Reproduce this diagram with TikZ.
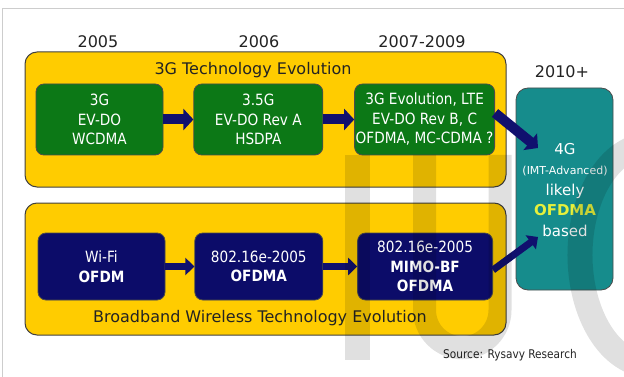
\documentclass[tikz,border=0pt]{standalone}
\usepackage{fontspec}
\setmainfont{DejaVu Sans}
\newfontfamily\boxfont{DejaVu Sans}[FakeStretch=0.88]
\usetikzlibrary{positioning,arrows.meta}

\definecolor{panelyellow}{RGB}{255,204,0}
\definecolor{boxgreen}{RGB}{12,120,22}
\definecolor{boxnavy}{RGB}{12,12,105}
\definecolor{arrownavy}{RGB}{16,16,110}
\definecolor{boxteal}{RGB}{22,140,140}
\definecolor{ofdmayellow}{RGB}{230,240,60}
\definecolor{framegray}{RGB}{205,205,205}
\definecolor{textgray}{RGB}{35,35,35}

\tikzset{
  panel/.style={draw=black!75, line width=1pt, fill=panelyellow, rounded corners=12pt, minimum width=481pt},
  techbox/.style={draw=black!70, line width=0.8pt, rounded corners=8pt, text=white, align=center,
    inner sep=0pt, font=\boxfont\fontsize{15.5}{19.5}\selectfont},
  gbox/.style={techbox, fill=boxgreen, minimum height=71pt},
  nbox/.style={techbox, fill=boxnavy, minimum height=67pt},
  year/.style={text=textgray, font=\fontsize{16}{19}\selectfont},
  evolabel/.style={text=textgray, font=\fontsize{16}{19}\selectfont},
  bigarrow/.style={arrownavy, line width=10pt, -{Triangle[length=10pt,width=21pt]}},
  smallarrow/.style={arrownavy, line width=7pt, -{Triangle[length=9pt,width=17pt]}},
  wmark/.style={black, opacity=0.12},
}

\begin{document}
\begin{tikzpicture}[x=1pt, y=-1pt]
  \useasboundingbox (0,0) rectangle (624,377);
  \draw[framegray, line width=1pt] (2,377) -- (2,9) -- (624,9);

  % the two panels
  \node[panel, minimum height=135pt] (top) at (265.5,119.5) {};
  \node[panel, minimum height=132pt] (bottom) at (265.5,269) {};
  \node[evolabel] (toplabel) at (253,70) {3G Technology Evolution};
  \node[evolabel] (bottomlabel) at (260,318) {Broadband Wireless Technology Evolution};

  % years
  \node[year] (y2005) at (98,42) {2005};
  \node[year] (y2006) at (259,42) {2006};
  \node[year] (y2007) at (422,42) {2007-2009};
  \node[year] (y2010) at (562,72) {2010+};

  % 3G row
  \node[gbox, minimum width=127pt] (g1) at (99.5,119.5) {3G\\EV-DO\\WCDMA};
  \node[gbox, minimum width=129pt, right=30pt of g1] (g2) {3.5G\\EV-DO Rev A\\HSDPA};
  \node[gbox, minimum width=140pt, right=31pt of g2] (g3) {3G Evolution, LTE\\EV-DO Rev B, C\\OFDMA, MC-CDMA ?};

  % broadband row
  \node[nbox, minimum width=127pt] (n1) at (101.5,266.5) {Wi-Fi\\\textbf{OFDM}};
  \node[nbox, minimum width=128pt, right=29pt of n1] (n2) {802.16e-2005\\\textbf{OFDMA}};
  \node[nbox, minimum width=135pt, right=34pt of n2] (n3) {802.16e-2005\\\textbf{MIMO-BF}\\\textbf{OFDMA}};

  % 4G
  \node[draw=black!70, line width=0.8pt, fill=boxteal, rounded corners=12pt,
        minimum width=97pt, minimum height=202pt] (fourg) at (564.5,189) {};
  \node[text=white, align=center, font=\fontsize{15}{20.5}\selectfont] (fourgtext) at (565,190)
    {4G\\{\fontsize{11}{12}\selectfont (IMT-Advanced)}\\likely\\\textcolor{ofdmayellow}{\textbf{OFDMA}}\\based};
  \coordinate (tipA) at (538,148);
  \coordinate (tipB) at (538,237);

  \draw[bigarrow] (g1) -- (g2);
  \draw[bigarrow] (g2) -- (g3);
  \draw[bigarrow] ([yshift=6.5pt]g3.east) -- (tipA);
  \draw[smallarrow] (n1) -- (n2);
  \draw[smallarrow] (n2) -- (n3);
  \draw[smallarrow] ([yshift=-3.5pt]n3.east) -- (tipB);

  \node[text=textgray, font=\boxfont\fontsize{12}{14}\selectfont] (source) at (510,355) {Source: Rysavy Research};

  % watermark
  \fill[wmark] (345,155) rectangle (370,360);
  \draw[wmark, line width=23pt] (424.5,155) -- (424.5,310) arc[start angle=180, end angle=0, radius=37.75] -- (500,155);
  \draw[wmark, line width=25pt] (650,255) ++(290:70 and 110) arc[start angle=290, end angle=70, x radius=70, y radius=110];
\end{tikzpicture}
\end{document}
